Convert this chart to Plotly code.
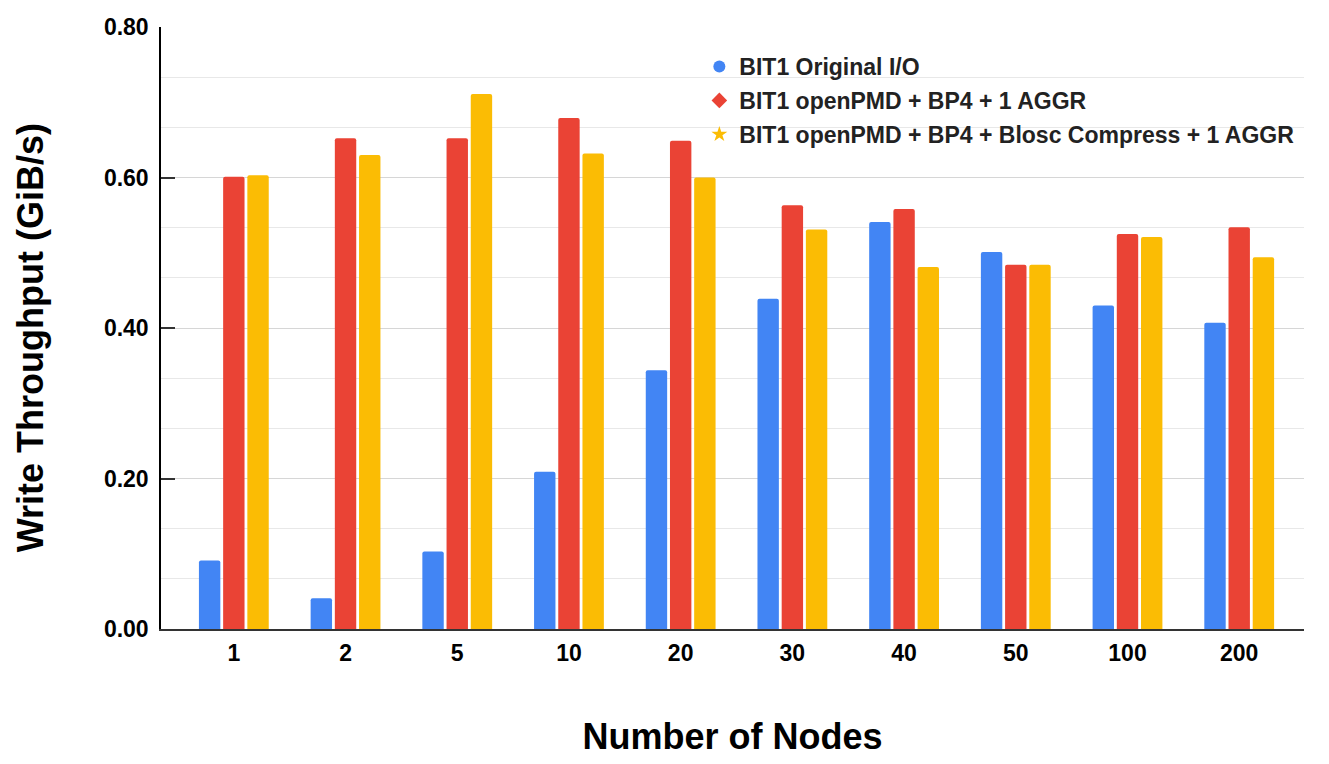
import plotly.graph_objects as go

nodes = ["1", "2", "5", "10", "20", "30", "40", "50", "100", "200"]
original_io = [0.091, 0.041, 0.103, 0.209, 0.344, 0.439, 0.541, 0.501, 0.430, 0.407]
openpmd_bp4 = [0.601, 0.652, 0.652, 0.679, 0.649, 0.563, 0.558, 0.484, 0.525, 0.534]
openpmd_blosc = [0.603, 0.630, 0.711, 0.632, 0.600, 0.531, 0.481, 0.484, 0.521, 0.494]

names = ["BIT1 Original I/O", "BIT1 openPMD + BP4 + 1 AGGR",
         "BIT1 openPMD + BP4 + Blosc Compress + 1 AGGR"]
colors = ["#4285F4", "#EA4335", "#FBBC04"]
symbols = ["circle", "diamond", "star"]
series = [original_io, openpmd_bp4, openpmd_blosc]

FONT = "Liberation Sans, Arial, sans-serif"

fig = go.Figure()
for nm, col, vals in zip(names, colors, series):
    fig.add_trace(go.Bar(x=nodes, y=vals, name=nm, marker=dict(color=col, line=dict(width=0), cornerradius=2),
                         showlegend=False))
for i, (nm, col, sym) in enumerate(zip(names, colors, symbols)):
    fig.add_trace(go.Scatter(x=[None], y=[None], mode="markers", name=nm, legendgroup=f"g{i}",
                             marker=dict(color=col, symbol=sym, size=12)))

fig.update_layout(
    width=1329, height=764,
    margin=dict(l=153, r=33, t=19, b=143, autoexpand=False),
    paper_bgcolor="white", plot_bgcolor="white",
    barmode="group", bargap=0.35, bargroupgap=0.116,
    font=dict(family=FONT, color="#000000"),
    legend=dict(x=0.471, y=0.97, xanchor="left", yanchor="top",
                font=dict(size=23, family=FONT, color="#222222", weight="bold"),
                bgcolor="rgba(255,255,255,0)", tracegroupgap=1),
    showlegend=True,
    annotations=[dict(text="<b>Write Throughput (GiB/s)</b>", textangle=-90,
                      xref="paper", yref="paper", x=-0.114, y=0.484,
                      xanchor="center", yanchor="middle", showarrow=False,
                      font=dict(size=36, family=FONT, color="#000000"))],
)
fig.update_xaxes(
    type="category", range=[-0.652, 9.58], automargin=False,
    showline=True, linecolor="#333333", linewidth=1.5,
    showgrid=False, ticks="",
    tickfont=dict(size=23, family=FONT, color="#000000", weight="bold"),
    ticklabelstandoff=3,
    title=dict(text="<b>Number of Nodes</b>", font=dict(size=36, family=FONT, color="#000000"), standoff=58),
)
fig.update_yaxes(
    range=[0, 0.8], tickvals=[0, 0.2, 0.4, 0.6, 0.8], ticktext=["0.00", "0.20", "0.40", "0.60", "0.80"],
    automargin=False,
    showline=True, linecolor="#000000", linewidth=1.5,
    ticks="inside", ticklen=14, tickcolor="#333333", tickwidth=1.5,
    showgrid=True, gridcolor="#d6d6d6", gridwidth=1,
    minor=dict(tickvals=[0.2/3*i for i in range(13) if i % 3 != 0], showgrid=True, gridcolor="#e8e8e8", gridwidth=1, ticks=""),
    zeroline=False,
    tickfont=dict(size=23, family=FONT, color="#000000", weight="bold"),
    ticklabelstandoff=6,
)
fig.write_html("out.html")
